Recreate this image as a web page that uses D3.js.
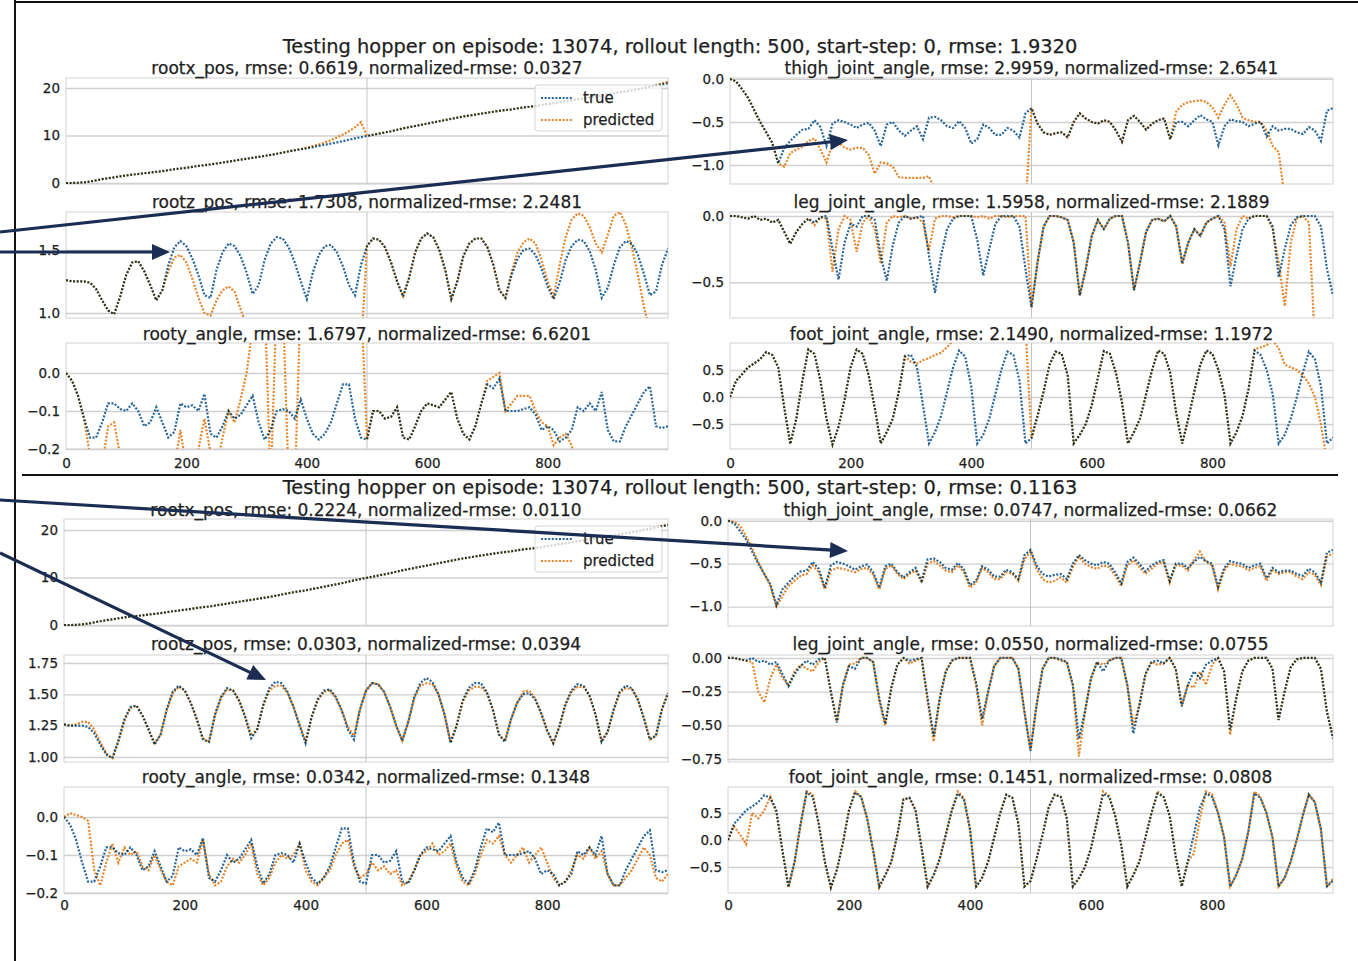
<!DOCTYPE html>
<html><head><meta charset="utf-8">
<script src="https://cdn.jsdelivr.net/npm/d3@7"></script>
<style>
body{margin:0;background:#fff}
svg{display:block}
text{font-family:"DejaVu Sans",sans-serif;fill:#1e1e1e;stroke:#1e1e1e;stroke-width:0.25px}
</style>
</head><body>
<svg id="c" width="1358" height="961"></svg>
<script>
// ---------------- DATA ----------------
const steps = d3.range(0, 1001, 10);   // time steps 0..1000
const xTicks = [0, 200, 400, 600, 800];
const rolloutLength = 500;
const seriesNames = ["true", "predicted"];

const supTitles = [
  "Testing hopper on episode: 13074, rollout length: 500, start-step: 0, rmse: 1.9320",
  "Testing hopper on episode: 13074, rollout length: 500, start-step: 0, rmse: 0.1163"
];
const panelTitlesTop = [
  "rootx_pos, rmse: 0.6619, normalized-rmse: 0.0327",
  "thigh_joint_angle, rmse: 2.9959, normalized-rmse: 2.6541",
  "rootz_pos, rmse: 1.7308, normalized-rmse: 2.2481",
  "leg_joint_angle, rmse: 1.5958, normalized-rmse: 2.1889",
  "rooty_angle, rmse: 1.6797, normalized-rmse: 6.6201",
  "foot_joint_angle, rmse: 2.1490, normalized-rmse: 1.1972"
];
const panelTitlesBottom = [
  "rootx_pos, rmse: 0.2224, normalized-rmse: 0.0110",
  "thigh_joint_angle, rmse: 0.0747, normalized-rmse: 0.0662",
  "rootz_pos, rmse: 0.0303, normalized-rmse: 0.0394",
  "leg_joint_angle, rmse: 0.0550, normalized-rmse: 0.0755",
  "rooty_angle, rmse: 0.0342, normalized-rmse: 0.1348",
  "foot_joint_angle, rmse: 0.1451, normalized-rmse: 0.0808"
];

const yTicksTop = [[0,10,20],[-1,-0.5,0],[1.0,1.5],[-0.5,0],[-0.2,-0.1,0],[-0.5,0,0.5]];
const yTicksBottom = [[0,10,20],[-1,-0.5,0],[1.0,1.25,1.5,1.75],[-0.75,-0.5,-0.25,0],[-0.2,-0.1,0],[-0.5,0,0.5]];
const yFormatsTop = ["d",".1f",".1f",".1f",".1f",".1f"];
const yFormatsBottom = ["d",".1f",".2f",".2f",".1f",".1f"];
const yDomainsTop = [[-0.21,22.1],[-1.22,0.01],[0.96,1.80],[-0.77,0.03],[-0.2,0.079],[-0.963,1.0]];
const yDomainsBottom = [[-0.2,22.3],[-1.226,0.02],[0.96,1.814],[-0.772,0.022],[-0.2,0.079],[-0.981,0.981]];

// ---- ground truth (same episode in both figures) ----
const rootxTrue = [
 0,0,0.05,0.15,0.3,0.55,0.8,1.0,1.2,1.4,
 1.6,1.75,1.9,2.05,2.2,2.35,2.5,2.7,2.9,3.05,
 3.2,3.4,3.6,3.75,3.9,4.1,4.3,4.5,4.7,4.9,
 5.1,5.3,5.5,5.7,5.9,6.15,6.4,6.65,6.9,7.1,
 7.3,7.55,7.8,8.05,8.3,8.55,8.8,9.1,9.4,9.65,
 9.9,10.15,10.4,10.65,10.9,11.2,11.5,11.75,12.0,12.25,
 12.5,12.75,13.0,13.25,13.5,13.75,14.0,14.2,14.4,14.6,
 14.8,15.0,15.2,15.35,15.5,15.7,15.9,16.05,16.2,16.4,
 16.6,16.8,17.0,17.2,17.4,17.6,17.8,18.0,18.2,18.45,
 18.7,18.9,19.1,19.3,19.5,19.75,20.0,20.25,20.5,20.75,
 21.0];
const thighTrue = [
 0.0,-0.03,-0.12,-0.22,-0.36,-0.5,-0.62,-0.74,-0.98,-0.8,
 -0.72,-0.65,-0.59,-0.58,-0.48,-0.56,-0.78,-0.52,-0.48,-0.5,
 -0.53,-0.57,-0.53,-0.51,-0.6,-0.78,-0.53,-0.5,-0.6,-0.66,
 -0.6,-0.55,-0.7,-0.45,-0.44,-0.48,-0.55,-0.57,-0.49,-0.57,
 -0.75,-0.7,-0.53,-0.57,-0.65,-0.65,-0.57,-0.6,-0.68,-0.4,
 -0.34,-0.52,-0.62,-0.65,-0.63,-0.62,-0.68,-0.5,-0.4,-0.46,
 -0.5,-0.52,-0.48,-0.5,-0.6,-0.73,-0.48,-0.43,-0.5,-0.59,
 -0.52,-0.48,-0.46,-0.7,-0.5,-0.5,-0.55,-0.48,-0.42,-0.47,
 -0.5,-0.77,-0.55,-0.47,-0.49,-0.5,-0.55,-0.52,-0.5,-0.67,
 -0.55,-0.6,-0.58,-0.58,-0.62,-0.64,-0.56,-0.6,-0.72,-0.37,
 -0.34];
const rootzTrue = [
 1.26,1.25,1.25,1.25,1.24,1.19,1.10,1.02,0.99,1.13,
 1.30,1.40,1.41,1.33,1.22,1.10,1.18,1.38,1.52,1.57,
 1.53,1.43,1.30,1.14,1.12,1.34,1.48,1.55,1.53,1.45,
 1.32,1.15,1.22,1.42,1.55,1.60,1.59,1.52,1.40,1.25,
 1.11,1.32,1.46,1.53,1.54,1.48,1.37,1.22,1.14,1.38,
 1.53,1.59,1.58,1.52,1.40,1.25,1.13,1.28,1.48,1.59,
 1.63,1.60,1.50,1.34,1.11,1.25,1.45,1.55,1.59,1.59,
 1.52,1.38,1.18,1.12,1.30,1.43,1.50,1.51,1.46,1.35,
 1.21,1.11,1.24,1.42,1.53,1.58,1.57,1.49,1.34,1.12,
 1.20,1.38,1.52,1.57,1.55,1.46,1.31,1.14,1.17,1.38,
 1.51];
const legTrue = [
 0.0,0.0,-0.01,-0.02,0.0,-0.03,-0.02,-0.05,-0.03,-0.12,
 -0.21,-0.12,-0.06,-0.02,-0.05,-0.01,0.0,-0.25,-0.48,-0.2,
 -0.06,-0.08,0.0,0.0,-0.03,-0.3,-0.49,-0.22,-0.05,0.0,
 -0.02,-0.01,0.0,-0.3,-0.58,-0.3,-0.1,-0.02,0.0,0.0,
 0.0,-0.18,-0.45,-0.25,-0.06,0.0,0.0,0.0,-0.08,-0.4,
 -0.69,-0.35,-0.08,0.0,0.0,-0.01,-0.03,-0.2,-0.6,-0.4,
 -0.15,-0.03,-0.1,-0.02,0.0,0.0,-0.2,-0.56,-0.35,-0.12,
 -0.03,-0.02,-0.04,0.0,-0.08,-0.36,-0.2,-0.1,-0.15,-0.05,
 -0.02,0.0,-0.1,-0.53,-0.3,-0.1,-0.02,0.0,0.0,0.0,
 -0.08,-0.46,-0.25,-0.07,-0.01,0.0,0.0,0.0,-0.08,-0.4,
 -0.6];
const rootyTrue = [
 0.0,-0.02,-0.06,-0.12,-0.17,-0.17,-0.13,-0.08,-0.08,-0.095,
 -0.10,-0.08,-0.10,-0.14,-0.13,-0.09,-0.13,-0.17,-0.155,-0.08,
 -0.09,-0.085,-0.10,-0.055,-0.16,-0.17,-0.14,-0.10,-0.12,-0.11,
 -0.085,-0.06,-0.13,-0.175,-0.15,-0.10,-0.095,-0.10,-0.12,-0.07,
 -0.12,-0.16,-0.175,-0.16,-0.13,-0.08,-0.03,-0.03,-0.12,-0.17,
 -0.175,-0.10,-0.10,-0.12,-0.115,-0.09,-0.17,-0.175,-0.14,-0.10,
 -0.08,-0.085,-0.09,-0.07,-0.05,-0.12,-0.16,-0.175,-0.14,-0.08,
 -0.03,-0.04,-0.015,-0.10,-0.10,-0.10,-0.095,-0.09,-0.11,-0.15,
 -0.14,-0.15,-0.18,-0.17,-0.15,-0.09,-0.10,-0.08,-0.10,-0.05,
 -0.15,-0.18,-0.18,-0.14,-0.11,-0.08,-0.05,-0.035,-0.14,-0.145,
 -0.14];
const footTrue = [
 0.0,0.3,0.42,0.55,0.62,0.7,0.83,0.78,0.55,-0.2,
 -0.87,-0.4,0.3,0.88,0.8,0.3,-0.4,-0.88,-0.55,-0.05,
 0.55,0.88,0.8,0.4,-0.2,-0.86,-0.65,-0.4,0.1,0.75,
 0.78,0.55,-0.15,-0.86,-0.65,-0.35,0.1,0.55,0.86,0.75,
 0.2,-0.86,-0.7,-0.4,0.05,0.5,0.84,0.78,0.3,-0.86,
 -0.76,-0.35,0.1,0.6,0.84,0.8,0.4,-0.86,-0.7,-0.5,
 -0.15,0.35,0.85,0.8,0.45,-0.1,-0.86,-0.65,-0.4,0.05,
 0.5,0.86,0.8,0.45,-0.3,-0.86,-0.4,0.1,0.6,0.86,
 0.8,0.5,0.05,-0.86,-0.65,-0.35,0.15,0.86,0.78,0.5,
 0.05,-0.86,-0.7,-0.4,0.0,0.45,0.84,0.7,0.2,-0.86,
 -0.75];

// ---- predictions, top figure (rmse 1.9320) ----
const rootxPredTop = [
 0,0,0.05,0.15,0.3,0.55,0.8,1.0,1.2,1.4,
 1.6,1.75,1.9,2.05,2.2,2.35,2.5,2.7,2.9,3.05,
 3.2,3.4,3.6,3.75,3.9,4.1,4.3,4.5,4.7,4.9,
 5.1,5.3,5.5,5.7,5.9,6.15,6.4,6.65,6.9,7.15,
 7.45,7.75,8.1,8.55,9.05,9.6,10.2,10.9,11.7,12.8,
 9.9,10.15,10.4,10.65,10.9,11.2,11.5,11.75,12.0,12.25,
 12.5,12.75,13.0,13.25,13.5,13.75,14.0,14.2,14.4,14.6,
 14.8,15.0,15.2,15.35,15.5,15.7,15.9,16.05,16.2,16.4,
 16.6,16.8,17.0,17.2,17.4,17.6,17.8,18.0,18.2,18.45,
 18.7,18.9,19.1,19.3,19.5,19.75,20.0,20.25,20.6,20.95,
 21.3];
const thighPredTop = [
 0.0,-0.03,-0.12,-0.22,-0.36,-0.5,-0.62,-0.74,-0.98,-1.02,
 -0.86,-0.82,-0.79,-0.72,-0.69,-0.82,-0.97,-0.75,-0.74,-0.8,
 -0.82,-0.8,-0.8,-0.88,-1.1,-0.97,-0.98,-1.02,-1.14,-1.15,
 -1.15,-1.15,-1.15,-1.13,-1.3,-1.5,-1.5,-1.5,-1.5,-1.5,
 -1.5,-1.5,-1.5,-1.5,-1.5,-1.5,-1.5,-1.5,-1.5,-1.5,
 -0.34,-0.52,-0.62,-0.65,-0.63,-0.62,-0.68,-0.5,-0.4,-0.46,
 -0.5,-0.52,-0.48,-0.5,-0.6,-0.73,-0.48,-0.43,-0.5,-0.59,
 -0.52,-0.48,-0.46,-0.7,-0.38,-0.3,-0.27,-0.26,-0.25,-0.27,
 -0.33,-0.45,-0.3,-0.19,-0.3,-0.45,-0.48,-0.5,-0.5,-0.6,
 -0.78,-0.85,-1.4,-1.6,-1.6,-1.6,-1.6,-1.6,-1.6,-1.6,
 -1.6];
const rootzPredTop = [
 1.26,1.25,1.25,1.25,1.24,1.19,1.10,1.02,0.99,1.13,
 1.30,1.40,1.41,1.33,1.22,1.10,1.18,1.33,1.44,1.46,
 1.40,1.27,1.12,1.00,0.98,1.10,1.18,1.21,1.17,1.03,
 0.90,0.80,0.70,0.70,0.70,0.70,0.70,0.70,0.70,0.70,
 0.70,0.70,0.70,0.70,0.70,0.70,0.70,0.70,0.70,0.70,
 1.53,1.59,1.58,1.52,1.40,1.25,1.13,1.28,1.48,1.59,
 1.63,1.60,1.50,1.34,1.11,1.25,1.45,1.55,1.59,1.59,
 1.52,1.38,1.18,1.12,1.32,1.48,1.56,1.59,1.55,1.42,
 1.25,1.13,1.38,1.60,1.74,1.79,1.77,1.68,1.55,1.48,
 1.62,1.77,1.80,1.70,1.52,1.30,1.05,0.85,0.70,0.60,
 0.50];
const legPredTop = [
 0.0,0.0,-0.01,-0.02,0.0,-0.03,-0.02,-0.05,-0.03,-0.12,
 -0.21,-0.12,-0.06,-0.02,-0.07,-0.01,-0.02,-0.42,-0.1,0.0,
 -0.03,-0.27,-0.05,0.0,-0.1,-0.36,-0.05,0.0,-0.01,0.0,
 -0.02,-0.01,-0.05,-0.26,-0.02,0.0,0.0,-0.01,0.0,0.0,
 0.0,-0.01,0.0,-0.02,0.0,0.0,-0.01,0.0,0.0,0.0,
 -0.69,-0.35,-0.08,0.0,0.0,-0.01,-0.03,-0.2,-0.6,-0.4,
 -0.15,-0.03,-0.1,-0.02,0.0,0.0,-0.2,-0.56,-0.35,-0.12,
 -0.03,-0.02,-0.04,0.0,-0.08,-0.36,-0.2,-0.1,-0.15,-0.05,
 -0.02,0.0,-0.05,-0.38,-0.1,0.0,-0.02,0.0,0.0,0.0,
 -0.1,-0.35,-0.68,-0.2,-0.02,0.0,-0.05,-0.95,-0.95,-0.95,
 -0.95];
const rootyPredTop = [
 0.0,-0.02,-0.06,-0.12,-0.22,-0.30,-0.24,-0.14,-0.13,-0.22,
 -0.30,-0.30,-0.30,-0.30,-0.30,-0.30,-0.30,-0.30,-0.25,-0.15,
 -0.25,-0.30,-0.20,-0.12,-0.21,-0.25,-0.17,-0.10,-0.13,-0.07,
 0.0,0.12,0.2,0.2,-0.3,0.2,0.2,-0.3,-0.3,0.2,
 0.2,0.2,0.2,0.2,0.2,0.2,0.2,0.2,0.2,0.2,
 -0.175,-0.10,-0.10,-0.12,-0.115,-0.09,-0.17,-0.175,-0.14,-0.10,
 -0.08,-0.085,-0.09,-0.07,-0.05,-0.12,-0.16,-0.175,-0.14,-0.08,
 -0.02,-0.01,0.0,-0.10,-0.08,-0.06,-0.06,-0.06,-0.10,-0.13,
 -0.14,-0.19,-0.17,-0.16,-0.19,-0.30,-0.30,-0.30,-0.30,-0.30,
 -0.30,-0.30,-0.30,-0.30,-0.30,-0.30,-0.30,-0.30,-0.30,-0.30,
 -0.30];
const footPredTop = [
 0.0,0.3,0.42,0.55,0.62,0.7,0.83,0.78,0.55,-0.2,
 -0.87,-0.4,0.3,0.88,0.8,0.3,-0.4,-0.88,-0.55,-0.05,
 0.55,0.88,0.8,0.4,-0.2,-0.86,-0.65,-0.4,0.1,0.75,
 0.65,0.62,0.68,0.72,0.78,0.82,0.92,1.05,1.2,1.3,
 1.3,1.3,1.3,1.3,1.3,1.3,1.3,1.3,1.3,1.3,
 -0.76,-0.35,0.1,0.6,0.84,0.8,0.4,-0.86,-0.7,-0.5,
 -0.15,0.35,0.85,0.8,0.45,-0.1,-0.86,-0.65,-0.4,0.05,
 0.5,0.86,0.8,0.45,-0.3,-0.86,-0.4,0.1,0.6,0.86,
 0.8,0.5,0.05,-0.86,-0.65,-0.35,0.15,0.88,0.92,0.96,
 1.05,0.9,0.6,0.55,0.5,0.4,0.25,0.0,-0.5,-1.2,
 -1.5];

// ---- predictions, bottom figure (rmse 0.1163) ----
const rootxPredBottom = [
 0,0,0.05,0.15,0.3,0.55,0.8,1.0,1.2,1.4,
 1.6,1.75,1.9,2.05,2.2,2.35,2.5,2.7,2.9,3.05,
 3.2,3.4,3.6,3.75,3.9,4.1,4.3,4.5,4.7,4.9,
 5.1,5.3,5.5,5.7,5.9,6.15,6.4,6.65,6.9,7.1,
 7.3,7.55,7.8,8.05,8.3,8.55,8.8,9.1,9.4,9.65,
 9.9,10.15,10.4,10.65,10.9,11.2,11.5,11.75,12.0,12.25,
 12.5,12.75,13.0,13.25,13.5,13.75,14.0,14.2,14.4,14.6,
 14.8,15.0,15.2,15.35,15.5,15.7,15.9,16.05,16.2,16.4,
 16.6,16.8,17.0,17.2,17.4,17.6,17.8,18.0,18.2,18.45,
 18.7,18.9,19.1,19.3,19.5,19.75,20.0,20.25,20.55,20.85,
 21.2];
const thighPredBottom = [
 0.0,-0.01,-0.06,-0.18,-0.32,-0.48,-0.62,-0.76,-1.0,-0.88,
 -0.76,-0.7,-0.64,-0.62,-0.52,-0.6,-0.8,-0.58,-0.55,-0.56,
 -0.58,-0.6,-0.56,-0.55,-0.63,-0.8,-0.56,-0.52,-0.62,-0.68,
 -0.62,-0.58,-0.72,-0.5,-0.47,-0.52,-0.58,-0.6,-0.52,-0.6,
 -0.78,-0.72,-0.55,-0.6,-0.68,-0.68,-0.6,-0.62,-0.7,-0.45,
 -0.36,-0.56,-0.68,-0.72,-0.7,-0.66,-0.72,-0.54,-0.42,-0.5,
 -0.54,-0.56,-0.52,-0.54,-0.64,-0.76,-0.52,-0.46,-0.54,-0.62,
 -0.56,-0.5,-0.48,-0.72,-0.52,-0.52,-0.58,-0.46,-0.36,-0.48,
 -0.52,-0.8,-0.58,-0.5,-0.52,-0.53,-0.58,-0.55,-0.53,-0.7,
 -0.58,-0.62,-0.6,-0.6,-0.65,-0.68,-0.6,-0.63,-0.75,-0.42,
 -0.38];
const rootzPredBottom = [
 1.26,1.25,1.26,1.28,1.28,1.22,1.12,1.03,0.99,1.12,
 1.29,1.39,1.41,1.33,1.22,1.11,1.18,1.37,1.51,1.56,
 1.53,1.43,1.30,1.15,1.12,1.33,1.47,1.54,1.53,1.45,
 1.32,1.17,1.23,1.41,1.53,1.57,1.57,1.51,1.40,1.26,
 1.13,1.32,1.45,1.52,1.53,1.47,1.37,1.24,1.17,1.38,
 1.53,1.59,1.58,1.52,1.40,1.25,1.13,1.28,1.47,1.57,
 1.59,1.58,1.50,1.34,1.12,1.25,1.44,1.53,1.56,1.56,
 1.51,1.38,1.18,1.13,1.30,1.43,1.52,1.53,1.47,1.35,
 1.21,1.11,1.24,1.41,1.52,1.56,1.56,1.49,1.34,1.13,
 1.20,1.37,1.51,1.55,1.54,1.46,1.31,1.14,1.17,1.38,
 1.51];
const legPredBottom = [
 0.0,0.0,-0.01,-0.02,-0.03,-0.25,-0.33,-0.15,-0.05,-0.15,
 -0.2,-0.1,-0.05,-0.08,-0.1,-0.03,0.0,-0.25,-0.47,-0.2,
 -0.05,-0.04,0.0,0.0,-0.03,-0.32,-0.5,-0.22,-0.05,0.0,
 -0.04,-0.02,0.0,-0.32,-0.62,-0.3,-0.1,-0.02,0.0,0.0,
 0.0,-0.2,-0.5,-0.25,-0.06,0.0,0.0,0.0,-0.08,-0.4,
 -0.68,-0.35,-0.08,0.0,0.0,-0.02,-0.03,-0.2,-0.73,-0.4,
 -0.15,-0.03,-0.05,-0.02,0.0,0.0,-0.2,-0.5,-0.35,-0.12,
 -0.03,-0.05,-0.04,0.0,-0.08,-0.35,-0.2,-0.22,-0.1,-0.2,
 -0.05,0.0,-0.1,-0.57,-0.3,-0.1,-0.02,0.0,0.0,0.0,
 -0.08,-0.46,-0.25,-0.07,-0.01,0.0,0.0,0.0,-0.08,-0.4,
 -0.58];
const rootyPredBottom = [
 0.0,0.01,0.005,0.0,-0.01,-0.14,-0.18,-0.12,-0.07,-0.12,
 -0.08,-0.10,-0.09,-0.13,-0.14,-0.10,-0.14,-0.17,-0.18,-0.13,
 -0.12,-0.11,-0.12,-0.06,-0.15,-0.18,-0.17,-0.13,-0.11,-0.12,
 -0.10,-0.07,-0.15,-0.18,-0.16,-0.12,-0.10,-0.11,-0.10,-0.07,
 -0.14,-0.17,-0.18,-0.16,-0.14,-0.10,-0.07,-0.06,-0.13,-0.16,
 -0.15,-0.12,-0.14,-0.13,-0.15,-0.14,-0.18,-0.17,-0.14,-0.10,
 -0.09,-0.07,-0.10,-0.09,-0.07,-0.13,-0.17,-0.18,-0.15,-0.10,
 -0.06,-0.07,-0.05,-0.10,-0.12,-0.10,-0.08,-0.12,-0.10,-0.08,
 -0.12,-0.16,-0.18,-0.17,-0.14,-0.10,-0.11,-0.08,-0.11,-0.09,
 -0.15,-0.18,-0.18,-0.16,-0.14,-0.11,-0.08,-0.10,-0.16,-0.17,
 -0.15];
const footPredBottom = [
 0.0,0.25,0.1,-0.08,0.5,0.4,0.55,0.8,0.5,-0.2,
 -0.88,-0.42,0.28,0.9,0.85,0.3,-0.4,-0.88,-0.55,-0.05,
 0.55,0.9,0.8,0.4,-0.2,-0.88,-0.65,-0.4,0.1,0.75,
 0.78,0.55,-0.15,-0.86,-0.65,-0.35,0.1,0.55,0.9,0.78,
 0.2,-0.88,-0.7,-0.4,0.05,0.5,0.84,0.78,0.3,-0.86,
 -0.76,-0.35,0.1,0.6,0.84,0.8,0.4,-0.86,-0.72,-0.5,
 -0.15,0.35,0.9,0.82,0.45,-0.1,-0.86,-0.65,-0.4,0.05,
 0.5,0.9,0.8,0.45,-0.3,-0.86,-0.4,-0.25,0.4,0.9,
 0.85,0.5,0.05,-0.86,-0.65,-0.35,0.15,0.9,0.8,0.5,
 0.05,-0.86,-0.7,-0.4,0.0,0.45,0.84,0.7,0.2,-0.86,
 -0.72];

const trueSeries = [rootxTrue, thighTrue, rootzTrue, legTrue, rootyTrue, footTrue];
const predTop = [rootxPredTop, thighPredTop, rootzPredTop, legPredTop, rootyPredTop, footPredTop];
const predBottom = [rootxPredBottom, thighPredBottom, rootzPredBottom, legPredBottom, rootyPredBottom, footPredBottom];

// ---------------- LAYOUT / STYLE ----------------
const W = 1358, H = 961;
const colTrue = "#27659a", colPred = "#e8842a", arrowCol = "#1b2d52";
const layouts = [
  {supY: 53, cols: [[66,668],[730,1333]], rows: [[78,184],[212,318],[343,449]], titleY: [74,208,340], xPad: 9,
   sup: supTitles[0], titles: panelTitlesTop, preds: predTop, ticks: yTicksTop, fmts: yFormatsTop, domains: yDomainsTop},
  {supY: 494, cols: [[64,668],[728,1333]], rows: [[519,626],[655,762],[787,893]], titleY: [516,650,783], xPad: 7,
   sup: supTitles[1], titles: panelTitlesBottom, preds: predBottom, ticks: yTicksBottom, fmts: yFormatsBottom, domains: yDomainsBottom}
];

const svg = d3.select("#c");
svg.append("rect").attr("width", W).attr("height", H).attr("fill", "#fff");

let clipId = 0;
layouts.forEach((L, fi) => {
  svg.append("text").attr("x", 680).attr("y", L.supY).attr("text-anchor", "middle")
    .style("font-size", "19.4px").text(L.sup);

  for (let p = 0; p < 6; p++) {
    const row = Math.floor(p / 2), col = p % 2;
    const [x0, x1] = L.cols[col], [y0, y1] = L.rows[row];
    const x = d3.scaleLinear().domain([0, 1000]).range([x0, x1]);
    const y = d3.scaleLinear().domain(L.domains[p]).range([y1, y0]);
    const g = svg.append("g");

    const ya = d3.axisLeft(y).tickValues(L.ticks[p]).tickFormat(d3.format(L.fmts[p]))
      .tickSize(-(x1 - x0)).tickPadding(6);
    const yg = g.append("g").attr("transform", `translate(${x0},0)`).call(ya);
    yg.select(".domain").remove();
    yg.selectAll(".tick line").attr("stroke", "#cfcfcf").attr("stroke-width", 1.4);
    yg.selectAll(".tick text").style("font-size", "13.5px").attr("fill", "#1e1e1e")
      .style("font-family", "'DejaVu Sans', sans-serif");

    g.append("line").attr("x1", x(rolloutLength)).attr("x2", x(rolloutLength))
      .attr("y1", y0).attr("y2", y1).attr("stroke", "#c4c4c4").attr("stroke-width", 1);

    g.append("rect").attr("x", x0).attr("y", y0).attr("width", x1 - x0).attr("height", y1 - y0)
      .attr("fill", "none").attr("stroke", "#d2d2d2").attr("stroke-width", 1);

    const cid = "clip" + (clipId++);
    svg.append("clipPath").attr("id", cid).append("rect")
      .attr("x", x0).attr("y", y0).attr("width", x1 - x0).attr("height", y1 - y0);

    const line = d3.line().x((d, i) => x(steps[i])).y(d => y(d));
    const lg = g.append("g").attr("clip-path", `url(#${cid})`);
    lg.append("path").attr("d", line(trueSeries[p])).attr("fill", "none")
      .attr("stroke", colTrue).attr("stroke-width", 2.2).attr("stroke-dasharray", "2,1.6");
    lg.append("path").attr("d", line(L.preds[p])).attr("fill", "none")
      .attr("stroke", colPred).attr("stroke-width", 2.2).attr("stroke-dasharray", "2,1.6")
      .style("mix-blend-mode", "multiply");

    g.append("text").attr("x", (x0 + x1) / 2).attr("y", L.titleY[row]).attr("text-anchor", "middle")
      .style("font-size", "17px").text(L.titles[p]);

    if (row === 2) {
      const xa = d3.axisBottom(x).tickValues(xTicks).tickSize(0).tickPadding(L.xPad);
      const xg = g.append("g").attr("transform", `translate(0,${y1})`).call(xa);
      xg.select(".domain").remove();
      xg.selectAll(".tick text").style("font-size", "13.5px").attr("fill", "#1e1e1e")
        .style("font-family", "'DejaVu Sans', sans-serif");
    }

    if (p === 0) {
      const lx = x1 - 133, ly = y0 + 7;
      const leg = g.append("g");
      leg.append("rect").attr("x", lx).attr("y", ly).attr("width", 127).attr("height", 46)
        .attr("rx", 3).attr("fill", "#fff").attr("fill-opacity", 0.8)
        .attr("stroke", "#d5d5d5").attr("stroke-width", 1);
      seriesNames.forEach((nm, k) => {
        const yy = ly + 13 + k * 22;
        leg.append("line").attr("x1", lx + 6).attr("x2", lx + 38).attr("y1", yy).attr("y2", yy)
          .attr("stroke", k === 0 ? colTrue : colPred).attr("stroke-width", 2.2).attr("stroke-dasharray", "2,1.6");
        leg.append("text").attr("x", lx + 48).attr("y", yy + 5).style("font-size", "15px").text(nm);
      });
    }
  }
});

svg.append("line").attr("x1", 15).attr("y1", 0).attr("x2", 15).attr("y2", H).attr("stroke", "#111").attr("stroke-width", 2);
svg.append("line").attr("x1", 14).attr("y1", 2).attr("x2", W).attr("y2", 2).attr("stroke", "#111").attr("stroke-width", 2);
svg.append("line").attr("x1", 22).attr("y1", 475).attr("x2", 1338).attr("y2", 475).attr("stroke", "#111").attr("stroke-width", 2);

const arrows = [
  [[0, 232], [848, 140]],
  [[0, 252], [170, 252]],
  [[0, 500], [848, 551]],
  [[0, 553], [266, 680]]
];
arrows.forEach(([a, b]) => {
  const dx = b[0] - a[0], dy = b[1] - a[1], len = Math.hypot(dx, dy);
  const ux = dx / len, uy = dy / len, hl = 18, hw = 8;
  const bx = b[0] - ux * hl, by = b[1] - uy * hl;
  svg.append("line").attr("x1", a[0]).attr("y1", a[1]).attr("x2", bx + ux * 2).attr("y2", by + uy * 2)
    .attr("stroke", arrowCol).attr("stroke-width", 3.2);
  svg.append("path").attr("d", `M${b[0]},${b[1]} L${bx - uy * hw},${by + ux * hw} L${bx + uy * hw},${by - ux * hw} Z`)
    .attr("fill", arrowCol);
});
</script>
</body></html>
